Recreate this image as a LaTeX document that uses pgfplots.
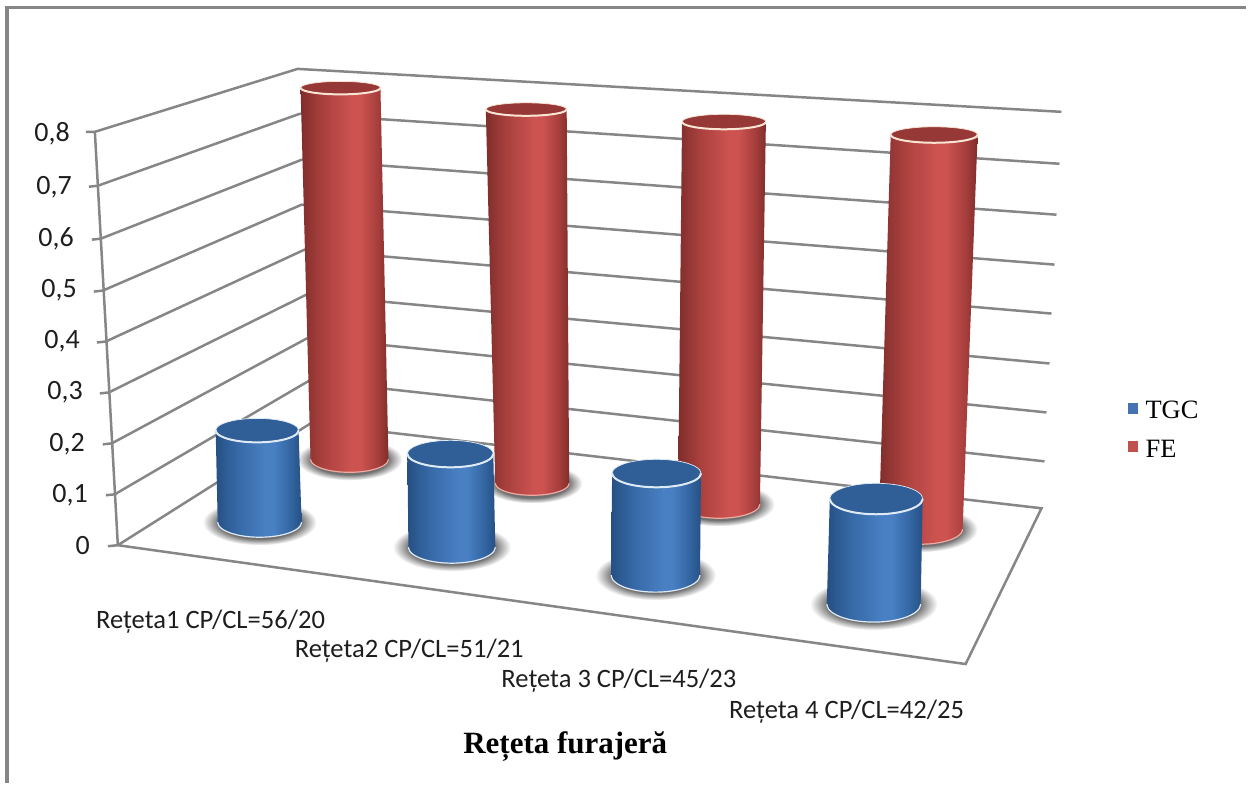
\documentclass[border=0pt]{standalone}
\usepackage{fontspec}
\usepackage{pgfplots}
\usepackage{pgfplotstable}
\pgfplotsset{compat=1.18}
\setmainfont{Carlito}
\newfontfamily\serifleg{Liberation Serif}

\definecolor{gridgray}{RGB}{134,134,134}
\definecolor{tgc}{RGB}{68,114,178}
\definecolor{fe}{RGB}{192,80,77}
\definecolor{bluetop}{RGB}{48,94,150}
\definecolor{redtopc}{RGB}{150,56,54}
\definecolor{bluerim}{RGB}{222,234,246}
\definecolor{redrim}{RGB}{250,228,212}
\definecolor{redbase}{RGB}{238,170,160}
\definecolor{rA}{RGB}{128,45,43}
\definecolor{rB}{RGB}{168,64,61}
\definecolor{rC}{RGB}{205,83,80}
\definecolor{rD}{RGB}{165,62,60}
\definecolor{bA}{RGB}{38,80,132}
\definecolor{bB}{RGB}{54,104,165}
\definecolor{bC}{RGB}{72,128,195}
\definecolor{bD}{RGB}{50,100,160}
\definecolor{shadowgray}{RGB}{112,112,112}
\definecolor{labeltext}{RGB}{30,30,30}

% Cylinder colours: dark rims, a highlight a little right of the centre
\pgfdeclarehorizontalshading{redcyl}{100bp}{
  color(0bp)=(rA); color(25bp)=(rA); color(37bp)=(rB); color(54bp)=(rC);
  color(59bp)=(rC); color(69bp)=(rD); color(75bp)=(rA); color(100bp)=(rA)}
\pgfdeclarehorizontalshading{bluecyl}{100bp}{
  color(0bp)=(bA); color(25bp)=(bA); color(37bp)=(bB); color(54bp)=(bC);
  color(59bp)=(bC); color(69bp)=(bD); color(75bp)=(bA); color(100bp)=(bA)}
\pgfdeclareradialshading{cylshadow}{\pgfpointorigin}{
  color(0bp)=(shadowgray); color(18bp)=(shadowgray);
  color(25bp)=(white); color(50bp)=(white)}

% Unit circle, used for the cylinder caps and floor shadows
\pgfplotstableread{
c s
1 0
0.966 0.259
0.866 0.5
0.707 0.707
0.5 0.866
0.259 0.966
0 1
-0.259 0.966
-0.5 0.866
-0.707 0.707
-0.866 0.5
-0.966 0.259
-1 0
-0.966 -0.259
-0.866 -0.5
-0.707 -0.707
-0.5 -0.866
-0.259 -0.966
0 -1
0.259 -0.966
0.5 -0.866
0.707 -0.707
0.866 -0.5
0.966 -0.259
1 0
}\unitring
% Front half of the same circle
\pgfplotstableread{
c s
1 0
0.966 0.259
0.866 0.5
0.707 0.707
0.5 0.866
0.259 0.966
0 1
-0.259 0.966
-0.5 0.866
-0.707 0.707
-0.866 0.5
-0.966 0.259
-1 0
}\unitfront
% Side of a cylinder: t=0 on the top cap, t=1 on the base
\pgfplotstableread{
c s t
-1 0 0
1 0 0
1 0 1
0.966 0.259 1
0.866 0.5 1
0.707 0.707 1
0.5 0.866 1
0.259 0.966 1
0 1 1
-0.259 0.966 1
-0.5 0.866 1
-0.707 0.707 1
-0.866 0.5 1
-0.966 0.259 1
-1 0 1
}\unitside

% Floor shadow: #1 cx, #2 cy, #3 rx, #4 ry
\newcommand{\floorshadow}[4]{
  \addplot[draw=none,shading=cylshadow,forget plot,smooth]
    table[x expr={#1+1.36*#3*\thisrow{c}},y expr={#2+(#4+8)*\thisrow{s}}]{\unitring};
}
% Builds one cylinder command per series: name, shading, cap, rim, base edge.
% The command takes: ##1 value, ##2 px per unit at its depth,
% ##3 cx top, ##4 rx top, ##5 ry top, ##6 cx base, ##7 cy base, ##8 rx base, ##9 ry base
\newcommand{\makecylinder}[5]{
  \expandafter\newcommand\csname #1\endcsname[9]{
    \floorshadow{##6}{##7}{##8}{##9}
    \addplot[draw=none,shading=#2,forget plot]
      table[x expr={(1-\thisrow{t})*(##3+##4*\thisrow{c})+\thisrow{t}*(##6+##8*\thisrow{c})},
            y expr={(1-\thisrow{t})*(##7-##1*##2)+\thisrow{t}*(##7+##9*\thisrow{s})}]{\unitside};
    \addplot[draw=#5,line width=1.2pt,forget plot,smooth]
      table[x expr={##6+##8*\thisrow{c}},y expr={##7+##9*\thisrow{s}}]{\unitfront};
    \addplot[fill=#3,draw=#4,line width=0.7pt,forget plot,smooth]
      table[x expr={##3+##4*\thisrow{c}},y expr={##7-##1*##2+##5*\thisrow{s}}]{\unitring};
    \addplot[draw=#4,line width=2pt,forget plot,smooth]
      table[x expr={##3+##4*\thisrow{c}},y expr={##7-##1*##2+##5*\thisrow{s}}]{\unitfront};
  }
}
\makecylinder{fecyl}{redcyl}{redtopc}{redrim}{redbase}
\makecylinder{tgccyl}{bluecyl}{bluetop}{bluerim}{bluerim}

\begin{document}
\begin{tikzpicture}
\begin{axis}[
  scale only axis,width=1248pt,height=784pt,
  xmin=0,xmax=1248,ymin=0,ymax=784,y dir=reverse,
  axis lines=none,clip=false,
]
% Full extent of the chart area
\addplot[draw=none,forget plot] coordinates {(0,0) (1248,784)};
% Chart frame, visible on its top and left sides
\addplot[draw=gridgray,line width=3.6pt,forget plot] coordinates {(7,784) (7,7.5) (1248,7.5)};

% Floor
\addplot[draw=gridgray,fill=white,line width=2.5pt,forget plot] coordinates {(118,546) (967,665) (1043,509) (311,424) (118,546)};

% Wall gridlines with their tick marks, levels 0.1 to 0.8
\addplot[draw=gridgray,line width=2.5pt,forget plot] coordinates {(106,496) (115,495) (310,381) (1046,462)};
\addplot[draw=gridgray,line width=2.5pt,forget plot] coordinates {(103,445) (112,444) (309,338) (1048,413)};
\addplot[draw=gridgray,line width=2.5pt,forget plot] coordinates {(100,394) (109,393) (307,295) (1051,364)};
\addplot[draw=gridgray,line width=2.5pt,forget plot] coordinates {(97,343) (106,342) (305,250) (1053,314)};
\addplot[draw=gridgray,line width=2.5pt,forget plot] coordinates {(94,292) (103,291) (302,205) (1056,265)};
\addplot[draw=gridgray,line width=2.5pt,forget plot] coordinates {(92,240) (101,239) (302,160) (1058,215)};
\addplot[draw=gridgray,line width=2.5pt,forget plot] coordinates {(89,187) (98,186) (300,114) (1061,164)};
\addplot[draw=gridgray,line width=2.5pt,forget plot] coordinates {(86,132) (95,132) (298,69) (1063,112)};
% Vertical axis and the tick at level 0
\addplot[draw=gridgray,line width=2.5pt,forget plot] coordinates {(95,132) (118,546)};
\addplot[draw=gridgray,line width=2.5pt,forget plot] coordinates {(108,547) (118,546)};

% FE series, back row
\fecyl{0.78}{476.9}{341}{40}{6.5}{350}{460}{39}{13}
\fecyl{0.76}{492.8}{527}{40.5}{6.5}{533}{484}{37}{12}
\fecyl{0.75}{510.7}{725}{42}{7.5}{720}{505}{41}{14}
\fecyl{0.75}{526.7}{935.5}{43.5}{8}{922}{530}{42}{15}

% TGC series, front row
\tgccyl{0.18}{511.1}{257.5}{41.5}{12}{260}{523}{42}{15}
\tgccyl{0.175}{534.3}{451}{43}{13.5}{452.5}{548}{43.5}{16}
\tgccyl{0.185}{551.4}{657.5}{44.5}{14}{656.5}{576}{44.5}{17}
\tgccyl{0.18}{586.1}{877.5}{46.5}{15.5}{875}{605}{47}{18}

% Value axis labels
\def\ticksize{\color{labeltext}\fontsize{28}{30}\selectfont}
\node[anchor=east,inner sep=0pt] at (axis cs:70,134) {\ticksize 0,8};
\node[anchor=east,inner sep=0pt] at (axis cs:72,187) {\ticksize 0,7};
\node[anchor=east,inner sep=0pt] at (axis cs:74,239) {\ticksize 0,6};
\node[anchor=east,inner sep=0pt] at (axis cs:77,291) {\ticksize 0,5};
\node[anchor=east,inner sep=0pt] at (axis cs:80,342) {\ticksize 0,4};
\node[anchor=east,inner sep=0pt] at (axis cs:83,393) {\ticksize 0,3};
\node[anchor=east,inner sep=0pt] at (axis cs:85,445) {\ticksize 0,2};
\node[anchor=east,inner sep=0pt] at (axis cs:88,496) {\ticksize 0,1};
\node[anchor=east,inner sep=0pt] at (axis cs:90,546) {\ticksize 0};

% Category labels
\def\catsize{\color{labeltext}\fontsize{26.6}{28}\selectfont}
\node[anchor=west,inner sep=0pt] at (axis cs:96,623) {\catsize Rețeta1 CP/CL=56/20};
\node[anchor=west,inner sep=0pt] at (axis cs:295,652) {\catsize Rețeta2 CP/CL=51/21};
\node[anchor=west,inner sep=0pt] at (axis cs:502,682) {\catsize Rețeta 3 CP/CL=45/23};
\node[anchor=west,inner sep=0pt] at (axis cs:730,713) {\catsize Rețeta 4 CP/CL=42/25};

% Axis title
\node[anchor=center,inner sep=0pt] at (axis cs:566,748) {\serifleg\bfseries\fontsize{31}{34}\selectfont Rețeta furajeră};

% Legend
\addplot[fill=tgc,draw=none,forget plot] coordinates {(1130,404) (1140,404) (1140,415) (1130,415)} -- cycle;
\addplot[fill=fe,draw=none,forget plot] coordinates {(1130,442) (1140,442) (1140,453) (1130,453)} -- cycle;
\node[anchor=west,inner sep=0pt] at (axis cs:1147,410) {\serifleg\fontsize{26.5}{28}\selectfont TGC};
\node[anchor=west,inner sep=0pt] at (axis cs:1147,449) {\serifleg\fontsize{26.5}{28}\selectfont FE};
\end{axis}
\end{tikzpicture}
\end{document}
